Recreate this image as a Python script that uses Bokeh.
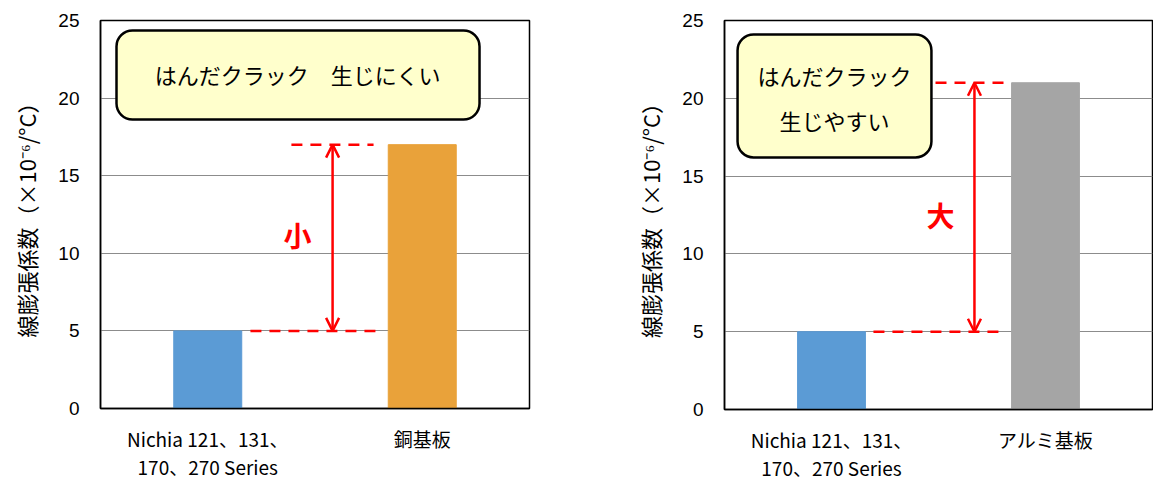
from bokeh.plotting import figure
from bokeh.models import (ColumnDataSource, FactorRange, Range1d, BoxAnnotation, Label,
                          Arrow, OpenHead, FixedTicker)
from bokeh.layouts import row
from bokeh.embed import file_html
from bokeh.resources import INLINE

# ---- data ----
cats_left = ["Nichia 121、131、\n170、270 Series", "銅基板"]
vals_left = [5, 17]
colors_left = ["#5B9BD5", "#E9A23A"]

cats_right = ["Nichia 121、131、\n170、270 Series", "アルミ基板"]
vals_right = [5, 21]
colors_right = ["#5B9BD5", "#A5A5A5"]

y_ticks = [0, 5, 10, 15, 20, 25]
y_label = "線膨張係数（×10⁻⁶/°C）"
note_left = "はんだクラック　生じにくい"
note_right = ["はんだクラック", "生じやすい"]
mark_left = "小"
mark_right = "大"

FONT = "Noto Sans CJK JP"
H = 480


def make_fig(cats, vals, colors, width, border_left, border_right, border_top, frame_h):
    p = figure(x_range=FactorRange(*cats), y_range=Range1d(0, 25),
               frame_width=width, frame_height=frame_h,
               width=border_left + width + border_right, height=H,
               min_border_left=border_left, min_border_right=border_right,
               min_border_top=border_top, min_border_bottom=H - border_top - frame_h,
               output_backend="svg", toolbar_location=None)
    src = ColumnDataSource(dict(x=cats, top=vals, color=colors))
    p.vbar(x="x", top="top", width=0.317, color="color", source=src)
    p.outline_line_color = "black"
    p.outline_line_width = 1.5
    p.outline_line_alpha = 1
    p.xgrid.grid_line_color = None
    p.ygrid.grid_line_color = "#8c8c8c"
    p.ygrid.grid_line_width = 1.2
    p.yaxis.ticker = FixedTicker(ticks=y_ticks)
    for ax in (p.xaxis[0], p.yaxis[0]):
        ax.major_tick_line_color = None
        ax.minor_tick_line_color = None
        ax.axis_line_color = "black"
        ax.axis_line_width = 1.5
        ax.major_label_text_color = "black"
    p.yaxis.major_label_text_font = "Liberation Sans"
    p.yaxis.major_label_text_font_size = "19px"
    p.xaxis.major_label_text_font = FONT
    p.xaxis.major_label_text_font_size = "19px"
    p.xaxis.major_label_text_line_height = 1.05
    p.yaxis.major_label_standoff = 15
    p.xaxis.major_label_standoff = 10
    p.yaxis.axis_label = y_label
    p.yaxis.axis_label_text_font = FONT
    p.yaxis.axis_label_text_font_style = "normal"
    p.yaxis.axis_label_text_font_size = "22px"
    p.yaxis.axis_label_text_color = "black"
    p.yaxis.axis_label_standoff = 13
    p.xaxis.major_label_orientation = "horizontal"
    return p


def add_box(p, l, r, b, t):
    p.add_layout(BoxAnnotation(left=l, right=r, bottom=b, top=t,
                               fill_color="#FFFFCC", fill_alpha=1, line_color="black",
                               line_alpha=1, line_width=2.5, border_radius=16))


def add_text(p, x, y, txt, color, size, style="normal"):
    p.add_layout(Label(x=x, y=y, text=txt, text_align="center", text_baseline="middle",
                       text_color=color, text_font=FONT, text_font_size=size,
                       text_font_style=style))


def add_arrow(p, x, y0, y1):
    p.add_layout(Arrow(x_start=x, x_end=x, y_start=y0, y_end=y1,
                       line_color="red", line_width=2.5,
                       start=OpenHead(size=13, line_color="red", line_width=2.5),
                       end=OpenHead(size=13, line_color="red", line_width=2.5)))


# ---- left ----
p1 = make_fig(cats_left, vals_left, colors_left, 429, 100, 91, 20, 388)
p1.segment(x0=[0.890, 0.699], y0=[vals_left[1], vals_left[0]],
           x1=[1.273, 1.282], y1=[vals_left[1], vals_left[0]],
           line_color="red", line_width=2.5, line_dash="11 8")
add_arrow(p1, 1.082, vals_left[0], vals_left[1])
add_text(p1, 0.918, 11.15, mark_left, "red", "28px", "bold")
add_box(p1, 0.0746, 1.767, 18.62, 24.36)
add_text(p1, 0.92, 21.55, note_left, "black", "22px")

# ---- right ----
p2 = make_fig(cats_right, vals_right, colors_right, 428, 104, 1, 19, 389)
p2.segment(x0=[0.986, 0.696], y0=[vals_right[1], vals_right[0]],
           x1=[1.304, 1.280], y1=[vals_right[1], vals_right[0]],
           line_color="red", line_width=2.5, line_dash="11 8")
add_arrow(p2, 1.168, vals_right[0], vals_right[1])
add_text(p2, 1.009, 12.5, mark_right, "red", "28px", "bold")
add_box(p2, 0.061, 0.967, 16.2, 24.1)
for txt, yy in zip(note_right, [21.47, 18.58]):
    add_text(p2, 0.514, yy, txt, "black", "22px")

layout = row(p1, p2)
open("out.html", "w").write(file_html(layout, INLINE))
